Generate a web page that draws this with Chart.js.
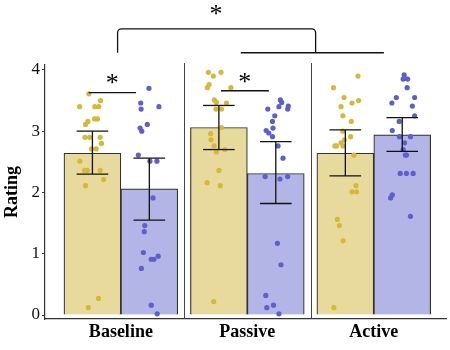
<!DOCTYPE html>
<html lang="en">
<head>
<meta charset="UTF-8">
<title>Rating by condition</title>
<script src="https://cdn.jsdelivr.net/npm/chart.js"></script>
<style>
  html, body { margin: 0; padding: 0; background: #fff; }
  #wrap { width: 450px; height: 350px; }
</style>
</head>
<body>
<div id="wrap"><canvas id="ratingChart"></canvas></div>
<script>
const groups = ['Baseline', 'Passive', 'Active'];
const groupPos = [1, 2, 3];
const yTicks = [0, 1, 2, 3, 4];

// bar means and error bar ends
const yellowX = [0.775, 1.775, 2.775];
const blueX = [1.225, 2.225, 3.225];
const yellowMean = [2.64, 3.06, 2.64];
const blueMean = [2.06, 2.31, 2.94];
const yellowLow = [2.30, 2.70, 2.27];
const yellowHigh = [3.00, 3.42, 3.02];
const blueLow = [1.55, 1.82, 2.67];
const blueHigh = [2.56, 2.83, 3.22];

// individual ratings, [x, rating]
const yellowPoints = [
  [0.747, 3.61], [0.839, 3.50], [0.674, 3.40], [0.794, 3.40], [0.825, 3.40], [0.792, 3.20],
  [0.815, 3.20], [0.739, 3.16], [0.721, 3.11], [0.716, 2.90], [0.752, 2.90], [0.836, 2.90],
  [0.846, 2.80], [0.768, 2.71], [0.805, 2.71], [0.676, 2.51], [0.713, 2.36], [0.734, 2.36],
  [0.836, 2.36], [0.864, 2.21], [0.721, 2.11], [0.823, 0.27], [0.742, 0.12],
  [1.692, 3.96], [1.792, 3.96], [1.731, 3.90], [1.698, 3.76], [1.684, 3.71], [1.870, 3.71],
  [1.739, 3.51], [1.755, 3.47], [1.835, 3.46], [1.752, 3.36], [1.796, 3.36], [1.796, 3.06],
  [1.710, 2.96], [1.713, 2.86], [1.737, 2.76], [1.823, 2.70], [1.755, 2.66], [1.776, 2.36],
  [1.682, 2.16], [1.786, 2.11], [1.734, 0.22],
  [2.875, 3.90], [2.681, 3.71], [2.765, 3.55], [2.880, 3.50], [2.828, 3.46], [2.741, 3.40],
  [2.755, 3.25], [2.822, 3.16], [2.755, 3.00], [2.817, 2.91], [2.767, 2.86], [2.741, 2.81],
  [2.692, 2.76], [2.705, 2.76], [2.757, 2.76], [2.843, 2.61], [2.859, 2.11], [2.828, 2.01],
  [2.864, 2.01], [2.712, 1.56], [2.728, 1.46], [2.757, 1.21], [2.684, 0.12]
];
const bluePoints = [
  [1.222, 3.70], [1.157, 3.46], [1.301, 3.40], [1.160, 3.36], [1.209, 3.11], [1.152, 3.05],
  [1.165, 3.00], [1.138, 2.61], [1.230, 2.51], [1.285, 2.51], [1.254, 1.91], [1.189, 1.46],
  [1.185, 1.36], [1.178, 1.02], [1.240, 0.91], [1.261, 0.91], [1.295, 0.96], [1.162, 0.76],
  [1.240, 0.16], [1.287, 0.02],
  [2.261, 3.51], [2.272, 3.47], [2.250, 3.40], [2.324, 3.41], [2.319, 3.36], [2.162, 3.36],
  [2.217, 3.25], [2.199, 3.16], [2.203, 3.05], [2.149, 3.01], [2.170, 2.97], [2.199, 2.91],
  [2.243, 2.76], [2.282, 2.56], [2.141, 2.26], [2.258, 2.22], [2.319, 2.26], [2.238, 1.17],
  [2.266, 0.82], [2.146, 0.32], [2.207, 0.16], [2.154, 0.12], [2.250, 0.02],
  [3.240, 3.92], [3.232, 3.85], [3.250, 3.86], [3.268, 3.85], [3.264, 3.71], [3.178, 3.55],
  [3.323, 3.55], [3.143, 3.46], [3.305, 3.41], [3.323, 3.25], [3.201, 3.16], [3.146, 3.01],
  [3.203, 2.91], [3.290, 2.91], [3.243, 2.81], [3.232, 2.70], [3.250, 2.61], [3.258, 2.61],
  [3.209, 2.31], [3.258, 2.31], [3.311, 2.31], [3.146, 1.96], [3.133, 1.91], [3.290, 1.61]
];

// significance marks
const sigLines = [[0.745, 1.120, 3.63], [1.792, 2.170, 3.66]];   // x1, x2, y
const sigStars = [[0.932, 3.65], [1.979, 3.68], [1.752, 4.78]];  // x, baseline y
const topBracket = [0.974, 2.54, 4.28, 4.67];                     // x1, x2, yLow, yHigh
const topLine = [1.948, 3.08, 4.28];
const separators = [1.5, 2.5];

const serif = '"Liberation Serif", "Times New Roman", serif';

const overlay = {
  id: 'overlay',
  afterDatasetsDraw(chart) {
    const { ctx, chartArea } = chart;
    const x = chart.scales.x, y = chart.scales.y;
    const px = v => x.getPixelForValue(v);
    const py = v => y.getPixelForValue(v);
    const seg = (x1, y1, x2, y2) => { ctx.beginPath(); ctx.moveTo(x1, y1); ctx.lineTo(x2, y2); ctx.stroke(); };
    ctx.save();

    ctx.strokeStyle = '#444';
    ctx.lineWidth = 1;
    separators.forEach(v => {
      const sx = Math.round(px(v)) + 0.5;
      seg(sx, chartArea.top - 2, sx, chartArea.bottom);
    });

    // error bars
    ctx.strokeStyle = '#111';
    ctx.lineWidth = 1.3;
    const capHalf = 0.125;
    const drawErr = (xs, lo, hi) => xs.forEach((xv, i) => {
      seg(px(xv), py(lo[i]), px(xv), py(hi[i]));
      seg(px(xv - capHalf), py(lo[i]), px(xv + capHalf), py(lo[i]));
      seg(px(xv - capHalf), py(hi[i]), px(xv + capHalf), py(hi[i]));
    });
    drawErr(yellowX, yellowLow, yellowHigh);
    drawErr(blueX, blueLow, blueHigh);

    // significance lines
    sigLines.forEach(([a, b, v]) => seg(px(a), py(v), px(b), py(v)));
    seg(px(topLine[0]), py(topLine[2]), px(topLine[1]), py(topLine[2]));
    const [bx1, bx2, byLow, byHigh] = topBracket;
    ctx.beginPath();
    ctx.moveTo(px(bx1), py(byLow));
    ctx.arcTo(px(bx1), py(byHigh), px(bx2), py(byHigh), 4);
    ctx.arcTo(px(bx2), py(byHigh), px(bx2), py(byLow), 4);
    ctx.lineTo(px(bx2), py(byLow));
    ctx.stroke();

    ctx.fillStyle = '#000';
    ctx.font = '26px ' + serif;
    ctx.textAlign = 'center';
    ctx.textBaseline = 'alphabetic';
    sigStars.forEach(([a, v]) => ctx.fillText('*', px(a), py(v)));
    ctx.restore();
  }
};

const ctx = document.getElementById('ratingChart').getContext('2d');
new Chart(ctx, {
  type: 'bar',
  data: {
    datasets: [
      {
        type: 'scatter', order: 1,
        data: yellowPoints.map(p => ({ x: p[0], y: p[1] })),
        backgroundColor: '#d7b838', borderWidth: 0, pointRadius: 2.6
      },
      {
        type: 'scatter', order: 1,
        data: bluePoints.map(p => ({ x: p[0], y: p[1] })),
        backgroundColor: '#5c60cc', borderWidth: 0, pointRadius: 2.6
      },
      {
        order: 2, grouped: false,
        data: yellowX.map((v, i) => ({ x: v, y: yellowMean[i] })),
        backgroundColor: '#e8da9c', borderColor: '#333', borderWidth: 1.2,
        categoryPercentage: 1, barPercentage: 1
      },
      {
        order: 2, grouped: false,
        data: blueX.map((v, i) => ({ x: v, y: blueMean[i] })),
        backgroundColor: '#b3b5e6', borderColor: '#333', borderWidth: 1.2,
        categoryPercentage: 1, barPercentage: 1
      }
    ]
  },
  options: {
    responsive: true,
    maintainAspectRatio: false,
    animation: false,
    devicePixelRatio: 1,
    layout: { padding: { top: 65, right: 0, left: 0, bottom: 0 } },
    plugins: { legend: { display: false }, tooltip: { enabled: false } },
    scales: {
      x: {
        type: 'linear', min: 0.4, max: 3.571, offset: false,
        afterBuildTicks: s => { s.ticks = groupPos.map(v => ({ value: v })); },
        afterFit: s => { s.height = 31; },
        ticks: {
          callback: v => groups[groupPos.indexOf(v)],
          font: { family: serif, size: 18, weight: 'bold' },
          color: '#000', padding: 3, maxRotation: 0, autoSkip: false
        },
        grid: { display: false, drawTicks: false },
        border: { display: true, color: '#333', width: 1.2 }
      },
      y: {
        min: -0.065, max: 4.08,
        afterBuildTicks: s => { s.ticks = yTicks.map(v => ({ value: v })); },
        afterFit: s => { s.width = 45; },
        ticks: { font: { family: serif, size: 17 }, color: '#111', padding: 2 },
        grid: { drawOnChartArea: false, drawTicks: true, tickLength: 3, color: '#333' },
        border: { display: true, color: '#333', width: 1.2 },
        title: {
          display: true, text: 'Rating', color: '#000',
          font: { family: serif, size: 18, weight: 'bold' },
          padding: { top: 2, bottom: 0 }
        }
      }
    }
  },
  plugins: [overlay]
});
</script>
</body>
</html>
